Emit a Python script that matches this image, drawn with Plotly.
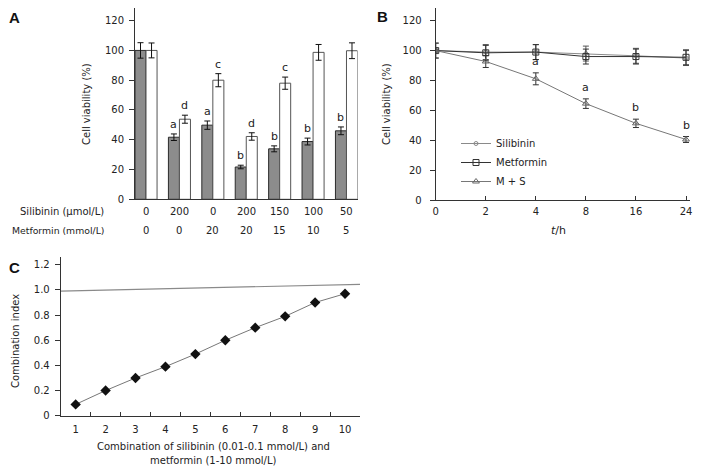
import plotly.graph_objects as go

# the page body has an 8px margin; the figure is placed at (8, 8)
OFF = 8
W, H = 705 - OFF, 474 - OFF
FONT = "DejaVu Sans"

# ---------------- Panel A data ----------------
silibinin_labels = ["0", "200", "0", "200", "150", "100", "50"]
metformin_labels = ["0", "0", "20", "20", "15", "10", "5"]
a_dark = [100, 41.7, 49.8, 21.7, 33.9, 38.8, 46.0]
a_dark_err = [5.2, 2.2, 2.8, 1.2, 2.0, 2.3, 2.6]
a_white = [100, 53.8, 80.0, 42.2, 78.0, 98.7, 99.8]
a_white_err = [5.0, 2.7, 4.4, 2.5, 4.1, 5.3, 5.3]
a_dark_letters = ["", "a", "a", "b", "b", "b", "b"]
a_white_letters = ["", "d", "c", "d", "c", "", ""]

# ---------------- Panel B data ----------------
b_time_labels = ["0", "2", "4", "8", "16", "24"]
b_silibinin = [100, 99, 99, 98, 96.5, 95]
b_silibinin_err = [5, 5, 5, 5, 5, 5]
b_metformin = [100, 98.5, 99, 96, 96, 95.5]
b_metformin_err = [5, 5, 5, 5, 5, 5]
b_ms = [100, 92.7, 81.1, 64.5, 51.3, 40.5]
b_ms_err = [1, 4, 4, 3.2, 2.8, 2]
b_letters = ["", "", "a", "a", "b", "b"]

# ---------------- Panel C data ----------------
c_x = [1, 2, 3, 4, 5, 6, 7, 8, 9, 10]
c_ci = [0.09, 0.2, 0.3, 0.39, 0.49, 0.6, 0.7, 0.79, 0.9, 0.97]
c_ref_x = [0.5, 10.5]
c_ref_y = [0.99, 1.045]


def px_x(p):
    return min(1.0, max(0.0, (p - OFF) / W))


def px_y(p):
    return min(1.0, max(0.0, 1 - (p - OFF) / H))


fig = go.Figure()

nA = len(a_dark)
idxA = list(range(nA))
fig.add_trace(go.Bar(
    x=idxA, y=a_dark, width=0.33, offset=-0.33,
    marker=dict(color="#8c8c8c", line=dict(color="#2b2b2b", width=1)),
    error_y=dict(type="data", array=a_dark_err, color="#111", thickness=1, width=3),
    xaxis="x", yaxis="y", showlegend=False))
fig.add_trace(go.Bar(
    x=idxA, y=a_white, width=0.33, offset=0,
    marker=dict(color="white", line=dict(color="#555", width=1)),
    error_y=dict(type="data", array=a_white_err, color="#111", thickness=1, width=3),
    xaxis="x", yaxis="y", showlegend=False))

# Panel B
idxB = list(range(len(b_time_labels)))
fig.add_trace(go.Scatter(
    x=idxB, y=b_silibinin, mode="lines+markers", name="Silibinin",
    line=dict(color="#8a8a8a", width=1),
    marker=dict(symbol="circle-open", size=4, color="#8a8a8a", line=dict(width=1)),
    error_y=dict(type="data", array=b_silibinin_err, color="#555", thickness=1, width=3),
    xaxis="x2", yaxis="y2"))
fig.add_trace(go.Scatter(
    x=idxB, y=b_metformin, mode="lines+markers", name="Metformin",
    line=dict(color="#333", width=1),
    marker=dict(symbol="square-open", size=6, color="#333", line=dict(width=1)),
    error_y=dict(type="data", array=b_metformin_err, color="#333", thickness=1, width=3),
    xaxis="x2", yaxis="y2"))
fig.add_trace(go.Scatter(
    x=idxB, y=b_ms, mode="lines+markers", name="M + S",
    line=dict(color="#777", width=1),
    marker=dict(symbol="triangle-up-open", size=6, color="#666", line=dict(width=1)),
    error_y=dict(type="data", array=b_ms_err, color="#333", thickness=1, width=3),
    xaxis="x2", yaxis="y2"))

# Panel C
fig.add_trace(go.Scatter(
    x=c_ref_x, y=c_ref_y, mode="lines", line=dict(color="#8a8a8a", width=1.2),
    xaxis="x3", yaxis="y3", showlegend=False))
fig.add_trace(go.Scatter(
    x=c_x, y=c_ci, mode="lines+markers", line=dict(color="#777", width=1),
    marker=dict(symbol="diamond", size=8, color="#111"),
    xaxis="x3", yaxis="y3", showlegend=False))
# boundary tick marks for C
fig.add_trace(go.Scatter(x=[c_ref_x[0]], y=[0], mode="markers", marker=dict(opacity=0),
                         xaxis="x4", yaxis="y3", showlegend=False, hoverinfo="skip"))

axis_common = dict(showline=True, linecolor="#333", linewidth=1, showgrid=False,
                   zeroline=False, tickfont=dict(family=FONT, size=10, color="#222"),
                   tickcolor="#333", fixedrange=True, automargin=False)

fig.update_layout(
    width=W, height=H, margin=dict(l=0, r=0, t=0, b=0, pad=0, autoexpand=False),
    paper_bgcolor="white", plot_bgcolor="white",
    barmode="overlay", font=dict(family=FONT, size=10, color="#222"),
    xaxis=dict(domain=[px_x(135), px_x(357.5)], range=[-0.33, nA - 1 + 0.33],
               showticklabels=False, ticks="", anchor="y", **axis_common),
    yaxis=dict(domain=[px_y(199.3), px_y(8)], range=[0, 128.5], tickvals=[0, 20, 40, 60, 80, 100, 120],
               ticks="outside", ticklen=5, ticklabelstandoff=3, anchor="x", **axis_common),
    xaxis2=dict(domain=[px_x(435.7), px_x(690)], range=[0, 5.08], tickvals=idxB, ticktext=b_time_labels,
                ticks="inside", ticklen=4, ticklabelstandoff=2, anchor="y2", **axis_common),
    yaxis2=dict(domain=[px_y(200), px_y(8)], range=[0, 128.5], tickvals=[0, 20, 40, 60, 80, 100, 120],
                ticks="outside", ticklen=5, ticklabelstandoff=6, anchor="x2", **axis_common),
    xaxis3=dict(domain=[px_x(60.7), px_x(360)], range=[0.5, 10.5], tickvals=c_x,
                ticks="", ticklabelstandoff=4, anchor="y3", **axis_common),
    xaxis4=dict(domain=[px_x(60.7), px_x(360)], range=[0.5, 10.5], overlaying="x3",
                tickvals=[v + 0.5 for v in c_x], showticklabels=False, ticks="inside",
                ticklen=4, anchor="y3", side="bottom", showline=False, showgrid=False,
                zeroline=False, tickcolor="#333", fixedrange=True, automargin=False),
    yaxis3=dict(domain=[px_y(415.7), px_y(256.5)], range=[0, 1.266],
                tickvals=[0, 0.2, 0.4, 0.6, 0.8, 1.0, 1.2],
                ticktext=["0", "0.2", "0.4", "0.6", "0.8", "1.0", "1.2"],
                ticks="outside", ticklen=5, ticklabelstandoff=3, anchor="x3", **axis_common),
    legend=dict(x=px_x(456), y=px_y(129), xanchor="left", yanchor="top",
                bgcolor="rgba(0,0,0,0)", font=dict(family=FONT, size=10, color="#222"),
                itemwidth=30, tracegroupgap=0),
)

ann = []


def add_text(text, x, y, xref="paper", yref="paper", xanchor="center", yanchor="middle",
             size=10, **kw):
    ann.append(dict(text=text, x=x, y=y, xref=xref, yref=yref, xanchor=xanchor,
                    yanchor=yanchor, showarrow=False, font=dict(size=size, **kw.pop("font", {})),
                    **kw))


# Row labels for panel A
add_text("Silibinin (μmol/L)", px_x(106), px_y(211), xanchor="right")
add_text("Metformin (mmol/L)", px_x(106), px_y(230), xanchor="right", size=9.3)
for i in idxA:
    add_text(silibinin_labels[i], i, px_y(211), xref="x")
    add_text(metformin_labels[i], i, px_y(230), xref="x")
    if a_dark_letters[i]:
        add_text(a_dark_letters[i], i - 0.165, a_dark[i] + a_dark_err[i], xref="x", yref="y",
                 yanchor="bottom", size=11, yshift=1)
    if a_white_letters[i]:
        add_text(a_white_letters[i], i + 0.165, a_white[i] + a_white_err[i], xref="x", yref="y",
                 yanchor="bottom", size=11, yshift=1)
for i in idxB:
    if b_letters[i]:
        add_text(b_letters[i], i, b_ms[i] + b_ms_err[i], xref="x2", yref="y2",
                 yanchor="bottom", size=11, yshift=3)

# axis titles
add_text("Cell viability (%)", px_x(87), px_y(104), textangle=-90)
add_text("Cell viability (%)", px_x(387), px_y(104), textangle=-90)
add_text("<i>t</i>/h", px_x(558), px_y(230), size=11)
add_text("Combination index", px_x(15), px_y(341), textangle=-90)
add_text("Combination of silibinin (0.01-0.1 mmol/L) and", px_x(213), px_y(446.5))
add_text("metformin (1-10 mmol/L)", px_x(213), px_y(460.7))

# panel letters
for lt, xx, yy in [("A", 15, 17), ("B", 383, 16), ("C", 15, 267)]:
    add_text("<b>%s</b>" % lt, px_x(xx), px_y(yy), size=15,
             font=dict(family="Liberation Sans", color="#111"))

fig.update_layout(annotations=ann)
fig.write_html("out.html")
